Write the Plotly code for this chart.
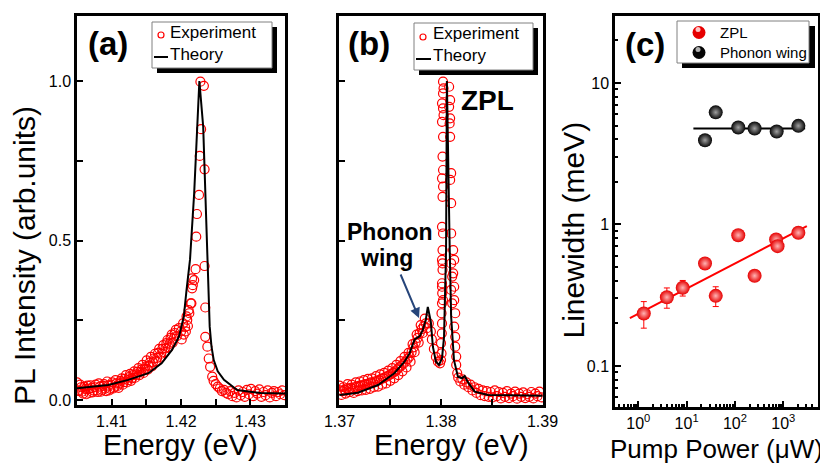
import plotly.graph_objects as go

# ---------------- data: panel (a) ----------------
a_theory_e = [1.4050, 1.4095, 1.4124, 1.4153, 1.4172, 1.4187, 1.4197, 1.4204, 1.4208, 1.4213,
              1.4219, 1.4223, 1.42265, 1.4232, 1.4235, 1.4238, 1.42414, 1.4244, 1.42472, 1.4253,
              1.4262, 1.4281, 1.4315, 1.4350]
a_theory_i = [0.037, 0.047, 0.063, 0.084, 0.115, 0.157, 0.198, 0.261, 0.345, 0.440,
              0.648, 0.857, 1.000, 0.857, 0.648, 0.439, 0.230, 0.167, 0.125, 0.090,
              0.063, 0.031, 0.022, 0.020]

a_exp_e = [1.4050, 1.4053, 1.4056, 1.4059, 1.4062, 1.4065, 1.4068, 1.4071, 1.4074, 1.4077,
           1.4080, 1.4083, 1.4086, 1.4089, 1.4092, 1.4095, 1.4098, 1.4101, 1.4104, 1.4107,
           1.4110, 1.4113, 1.4116, 1.4119, 1.4122, 1.4125, 1.4128, 1.4131, 1.4134, 1.4137,
           1.4140, 1.4143, 1.4146, 1.4149, 1.4152, 1.4155, 1.4158, 1.4161, 1.4164, 1.4167,
           1.4170, 1.4173, 1.4176, 1.4179, 1.4182, 1.4185, 1.4188, 1.4191, 1.4194, 1.4197,
           1.4200, 1.4201, 1.4204, 1.4207, 1.4210,
           1.40515, 1.40545, 1.40575, 1.40605, 1.40635, 1.40665, 1.40695, 1.40725, 1.40755, 1.40785,
           1.40815, 1.40845, 1.40875, 1.40905, 1.40935, 1.40965, 1.40995, 1.41025, 1.41055, 1.41085,
           1.41115, 1.41145, 1.41175, 1.41205, 1.41235, 1.41265, 1.41295, 1.41325, 1.41355, 1.41385,
           1.41415, 1.41445, 1.41475, 1.41505, 1.41535, 1.41565, 1.41595, 1.41625, 1.41655, 1.41685,
           1.41715, 1.41745, 1.41775, 1.41805, 1.41835, 1.41865, 1.41895, 1.41925,
           1.4203, 1.4206, 1.4208, 1.4209, 1.4211, 1.4212, 1.4214, 1.4215, 1.4216, 1.4216,
           1.4217, 1.4219, 1.4221, 1.4222, 1.4223, 1.4226, 1.4227, 1.4229, 1.4228, 1.4233,
           1.4234, 1.4234, 1.4235, 1.4235, 1.4238, 1.4240, 1.4242, 1.4245, 1.4247, 1.4250,
           1.4253, 1.4256, 1.4259, 1.4262, 1.4265, 1.4268,
           1.4271, 1.4274, 1.4277, 1.4280, 1.4283, 1.4286, 1.4289, 1.4292, 1.4295, 1.4298,
           1.4301, 1.4304, 1.4307, 1.4310, 1.4313, 1.4316, 1.4319, 1.4322, 1.4325, 1.4328,
           1.4331, 1.4334, 1.4337, 1.4340, 1.4343, 1.4346, 1.4349]
a_exp_i = [0.055, 0.028, 0.040, 0.020, 0.035, 0.045, 0.022, 0.038, 0.030, 0.048,
           0.025, 0.042, 0.032, 0.050, 0.028, 0.045, 0.035, 0.055, 0.040, 0.052,
           0.038, 0.060, 0.048, 0.066, 0.055, 0.072, 0.060, 0.078, 0.070, 0.088,
           0.078, 0.095, 0.085, 0.105, 0.095, 0.118, 0.105, 0.130, 0.122, 0.148,
           0.135, 0.160, 0.150, 0.178, 0.165, 0.195, 0.180, 0.210, 0.200, 0.225,
           0.215, 0.190, 0.205, 0.215, 0.232,
           0.030, 0.048, 0.026, 0.042, 0.018, 0.034, 0.046, 0.024, 0.040, 0.030,
           0.052, 0.026, 0.044, 0.036, 0.058, 0.030, 0.048, 0.036, 0.062, 0.044,
           0.052, 0.068, 0.056, 0.078, 0.062, 0.082, 0.068, 0.090, 0.080, 0.100,
           0.088, 0.110, 0.098, 0.124, 0.108, 0.135, 0.118, 0.145, 0.132, 0.160,
           0.145, 0.172, 0.162, 0.188, 0.176, 0.205, 0.192, 0.220,
           0.240, 0.228, 0.262, 0.251, 0.282, 0.272, 0.303, 0.303, 0.350, 0.381,
           0.360, 0.376, 0.410, 0.512, 0.583, 0.643, 0.765, 0.849, 0.998, 0.985,
           0.723, 0.420, 0.290, 0.198, 0.167, 0.130, 0.104, 0.073, 0.060, 0.050,
           0.042, 0.036, 0.028, 0.032, 0.022, 0.018,
           0.028, 0.012, 0.022, 0.008, 0.030, 0.015, 0.025, 0.010, 0.032, 0.018,
           0.035, 0.012, 0.028, 0.020, 0.033, 0.010, 0.025, 0.015, 0.030, 0.008,
           0.022, 0.028, 0.012, 0.025, 0.018, 0.030, 0.015]

# ---------------- data: panel (b) ----------------
b_theory_e = [1.3700, 1.3718, 1.3738, 1.3754, 1.3764, 1.3769, 1.3774, 1.3779, 1.3782, 1.3785,
              1.3787, 1.3790, 1.3792, 1.3795, 1.3798, 1.3801, 1.3803, 1.3804, 1.3805, 1.38058,
              1.38072, 1.38086, 1.3810, 1.38128, 1.38167, 1.38207, 1.38233, 1.38273, 1.38332, 1.38463,
              1.3900]
b_theory_i = [0.016, 0.023, 0.047, 0.084, 0.120, 0.146, 0.190, 0.200, 0.219, 0.251,
              0.292, 0.245, 0.167, 0.120, 0.110, 0.131, 0.198, 0.313, 0.470, 1.000,
              0.700, 0.470, 0.261, 0.125, 0.073, 0.068, 0.075, 0.052, 0.026, 0.016,
              0.013]

b_exp_e = [1.3700, 1.3702, 1.3704, 1.3706, 1.3708, 1.3710, 1.3712, 1.3714, 1.3716, 1.3718,
           1.3720, 1.3722, 1.3724, 1.3726, 1.3728, 1.3730, 1.3732, 1.3734, 1.3736, 1.3738,
           1.3740, 1.3742, 1.3744, 1.3746, 1.3748, 1.3750, 1.3752, 1.3754, 1.3756, 1.3758,
           1.3760, 1.3762, 1.3764, 1.3766, 1.3768, 1.3770, 1.3772, 1.3774, 1.3776, 1.3778,
           1.3780, 1.3782, 1.3784, 1.3786,
           1.3701, 1.3703, 1.3705, 1.3707, 1.3709, 1.3711, 1.3713, 1.3715, 1.3717, 1.3719,
           1.3721, 1.3723, 1.3725, 1.3727, 1.3729, 1.3731, 1.3733, 1.3735, 1.3737, 1.3739,
           1.3741, 1.3743, 1.3745, 1.3747, 1.3749, 1.3751, 1.3753, 1.3755, 1.3757, 1.3759,
           1.3761, 1.3763, 1.3765, 1.3767, 1.3769, 1.3771, 1.3773, 1.3775, 1.3777, 1.3779,
           1.3781, 1.3783, 1.3785,
           1.3788, 1.3790, 1.3791, 1.3793, 1.3795, 1.3797, 1.3799,
           1.3800, 1.38005, 1.3800, 1.38008, 1.3801, 1.38005, 1.3801, 1.38012, 1.3801, 1.38015,
           1.3801, 1.38015,
           1.3802, 1.3801, 1.38015, 1.3802, 1.3801, 1.38015, 1.3802, 1.3801, 1.3802, 1.38015,
           1.3802, 1.3801, 1.38025, 1.3802, 1.3801, 1.3802, 1.38025, 1.3802,
           1.3808, 1.3809, 1.3808, 1.3809, 1.38085, 1.3809, 1.3810, 1.3809, 1.3810, 1.3810,
           1.3810, 1.3811, 1.3810, 1.3811,
           1.3812, 1.3813, 1.3812, 1.3813, 1.3813, 1.3814, 1.3813, 1.3814, 1.3814, 1.3815,
           1.3815, 1.3816,
           1.3817, 1.3819, 1.3821, 1.3823, 1.3825, 1.3827, 1.3829, 1.3831, 1.3833, 1.3835,
           1.3837, 1.3839, 1.3841, 1.3843, 1.3845, 1.3847, 1.3849, 1.3851, 1.3853, 1.3855,
           1.3857, 1.3859, 1.3861, 1.3863, 1.3865, 1.3867, 1.3869, 1.3871, 1.3873, 1.3875,
           1.3877, 1.3879, 1.3881, 1.3883, 1.3885, 1.3887, 1.3889, 1.3891, 1.3893, 1.3895,
           1.3897, 1.3899]
b_exp_i = [0.045, 0.016, 0.040, 0.020, 0.050, 0.025, 0.048, 0.022, 0.055, 0.028,
           0.058, 0.030, 0.062, 0.032, 0.066, 0.035, 0.068, 0.040, 0.075, 0.042,
           0.080, 0.048, 0.085, 0.052, 0.092, 0.060, 0.100, 0.068, 0.110, 0.078,
           0.122, 0.090, 0.135, 0.102, 0.148, 0.120, 0.175, 0.150, 0.205, 0.180,
           0.235, 0.210, 0.255, 0.225,
           0.030, 0.028, 0.032, 0.036, 0.034, 0.038, 0.035, 0.040, 0.042, 0.044,
           0.046, 0.045, 0.050, 0.048, 0.052, 0.055, 0.054, 0.058, 0.060, 0.062,
           0.066, 0.068, 0.072, 0.074, 0.078, 0.082, 0.086, 0.090, 0.096, 0.102,
           0.108, 0.114, 0.120, 0.128, 0.136, 0.150, 0.165, 0.180, 0.195, 0.210,
           0.222, 0.232, 0.240,
           0.240, 0.215, 0.190, 0.160, 0.135, 0.120, 0.115,
           0.125, 0.146, 0.178, 0.209, 0.240, 0.272, 0.303, 0.335, 0.366, 0.408,
           0.439, 0.470,
           0.313, 0.355, 0.428, 0.522, 0.543, 0.637, 0.669, 0.695, 0.721, 0.763,
           0.825, 0.872, 0.893, 0.914, 0.930, 0.961, 0.977, 0.998,
           0.982, 0.940, 0.919, 0.883, 0.867, 0.825, 0.711, 0.690, 0.617, 0.522,
           0.428, 0.387, 0.345, 0.303,
           0.470, 0.439, 0.397, 0.355, 0.313, 0.272, 0.230, 0.198, 0.167, 0.136,
           0.110, 0.084,
           0.070, 0.058, 0.065, 0.048, 0.055, 0.040, 0.048, 0.030, 0.040, 0.022,
           0.035, 0.015, 0.030, 0.012, 0.028, 0.010, 0.025, 0.008, 0.030, 0.012,
           0.025, 0.005, 0.022, 0.010, 0.028, 0.006, 0.020, 0.012, 0.026, 0.004,
           0.020, 0.010, 0.024, 0.006, 0.018, 0.010, 0.025, 0.005, 0.020, 0.012,
           0.026, 0.008]

# ---------------- data: panel (c) ----------------
c_zpl_power = [1.3, 3.9, 8.3, 24, 40, 117, 255, 710, 760, 2050]
c_zpl_width = [0.235, 0.306, 0.357, 0.53, 0.313, 0.84, 0.434, 0.783, 0.703, 0.874]
c_zpl_err = [0.05, 0.05, 0.045, 0.03, 0.05, 0.03, 0.03, 0.03, 0.03, 0.03]
c_zpl_fit_power = [0.67, 3070]
c_zpl_fit_width = [0.218, 0.973]
c_pw_power = [24, 40, 117, 255, 730, 2050]
c_pw_width = [3.94, 6.2, 4.85, 4.77, 4.54, 4.98]
c_pw_fit_power = [13.8, 2830]
c_pw_fit_width = [4.77, 4.77]

a_xticks = [1.41, 1.42, 1.43]
b_xticks = [1.37, 1.38, 1.39]
ab_yticks = [0.0, 0.5, 1.0]
c_xticks = [1, 10, 100, 1000]
c_xticktext = ['10<sup>0</sup>', '10<sup>1</sup>', '10<sup>2</sup>', '10<sup>3</sup>']
c_yticks = [0.1, 1, 10]
c_yticktext = ['0.1', '1', '10']

# ---------------- figure ----------------
# the page body adds an 8 px margin, so the figure is drawn 8 px smaller and
# every target position (measured in window pixels) is shifted by that offset
OX, OY = 8, 8
W, H = 820, 459
RED = '#ff0000'
FONT = 'Liberation Sans, Arial, sans-serif'


def fx(x):
    return (x - OX) / W


def fy(y):
    return 1 - (y - OY) / H


fig = go.Figure()

fig.add_trace(go.Scatter(x=a_exp_e, y=a_exp_i, mode='markers', name='Experiment',
                         marker=dict(symbol='circle-open', size=9, color=RED, line=dict(width=1.2)),
                         xaxis='x', yaxis='y', showlegend=False))
fig.add_trace(go.Scatter(x=a_theory_e, y=a_theory_i, mode='lines', name='Theory',
                         line=dict(color='black', width=2), xaxis='x', yaxis='y', showlegend=False))

fig.add_trace(go.Scatter(x=b_exp_e, y=b_exp_i, mode='markers', name='Experiment',
                         marker=dict(symbol='circle-open', size=9, color=RED, line=dict(width=1.2)),
                         xaxis='x2', yaxis='y2', showlegend=False))
fig.add_trace(go.Scatter(x=b_theory_e, y=b_theory_i, mode='lines', name='Theory',
                         line=dict(color='black', width=2), xaxis='x2', yaxis='y2', showlegend=False))

fig.add_trace(go.Scatter(x=c_zpl_fit_power, y=c_zpl_fit_width, mode='lines',
                         line=dict(color=RED, width=2), xaxis='x3', yaxis='y3', showlegend=False))
fig.add_trace(go.Scatter(x=c_pw_fit_power, y=c_pw_fit_width, mode='lines',
                         line=dict(color='black', width=2), xaxis='x3', yaxis='y3', showlegend=False))
fig.add_trace(go.Scatter(x=c_zpl_power, y=c_zpl_width, mode='markers', name='ZPL',
                         error_y=dict(type='data', array=c_zpl_err, color=RED, thickness=1, width=3),
                         marker=dict(size=14, color='#e60000', gradient=dict(type='radial', color='#ffb4b4'),
                                     line=dict(width=0)),
                         xaxis='x3', yaxis='y3', showlegend=False))
fig.add_trace(go.Scatter(x=c_pw_power, y=c_pw_width, mode='markers', name='Phonon wing',
                         marker=dict(size=14, color='#050505', gradient=dict(type='radial', color='#a0a0a0'),
                                     line=dict(width=0)),
                         xaxis='x3', yaxis='y3', showlegend=False))

axis_common = dict(showline=True, linecolor='black', linewidth=2.5, mirror=True, automargin=False,
                   ticks='inside', tickwidth=2, ticklen=6, tickcolor='black',
                   showgrid=False, zeroline=False, tickfont=dict(size=16, color='black'))
minor_common = dict(ticks='inside', ticklen=6, tickwidth=2, tickcolor='black', showgrid=False)
minor_log = dict(ticks='inside', ticklen=3.5, tickwidth=1.5, tickcolor='black', showgrid=False)

fig.update_layout(
    width=W, height=H, margin=dict(l=0, r=0, t=0, b=0, autoexpand=False),
    paper_bgcolor='white', plot_bgcolor='white',
    font=dict(family=FONT, color='black'),
    showlegend=False,
    xaxis=dict(axis_common, domain=[fx(77), fx(285)], range=[1.405, 1.435], anchor='y',
               tickmode='array', tickvals=a_xticks, ticktext=[f'{v:.2f}' for v in a_xticks],
               minor=dict(minor_common, tickvals=[1.415, 1.425])),
    yaxis=dict(axis_common, domain=[fy(405), fy(16)], range=[-0.0157, 1.2038], anchor='x',
               tickmode='array', tickvals=ab_yticks, ticktext=[f'{v:.1f}' for v in ab_yticks],
               minor=dict(minor_common, tickvals=[0.25, 0.75])),
    xaxis2=dict(axis_common, domain=[fx(339), fx(543)], range=[1.36995, 1.39005], anchor='y2',
                tickmode='array', tickvals=b_xticks, ticktext=[f'{v:.2f}' for v in b_xticks],
                minor=dict(minor_common, tickvals=[1.375, 1.385])),
    yaxis2=dict(axis_common, domain=[fy(405), fy(16)], range=[-0.0157, 1.2038], anchor='x2',
                tickmode='array', tickvals=[0.25, 0.5, 0.75, 1.0], showticklabels=False),
    xaxis3=dict(axis_common, type='log', domain=[fx(615), fx(818)], range=[-0.482, 3.718], anchor='y3',
                tickmode='array', tickvals=c_xticks, ticktext=c_xticktext,
                minor=dict(minor_log, tickvals=[0.4, 0.5, 0.6, 0.7, 0.8, 0.9,
                                                 2, 3, 4, 5, 6, 7, 8, 9,
                                                 20, 30, 40, 50, 60, 70, 80, 90,
                                                 200, 300, 400, 500, 600, 700, 800, 900,
                                                 2000, 3000, 4000, 5000])),
    yaxis3=dict(axis_common, type='log', domain=[fy(407), fy(16)], range=[-1.29, 1.4735], anchor='x3',
                tickmode='array', tickvals=c_yticks, ticktext=c_yticktext,
                minor=dict(minor_log, tickvals=[0.06, 0.07, 0.08, 0.09,
                                                 0.2, 0.3, 0.4, 0.5, 0.6, 0.7, 0.8, 0.9,
                                                 2, 3, 4, 5, 6, 7, 8, 9, 20])),
)


def rect(x0, y0, x1, y1, fill, line_color=None, lw=0):
    return dict(type='rect', xref='paper', yref='paper', x0=fx(x0), x1=fx(x1), y0=fy(y1), y1=fy(y0),
                fillcolor=fill, line=dict(color=line_color or fill, width=lw), layer='above')


def circ(cx, cy, r, fill, line_color=None, lw=0):
    return dict(type='circle', xref='paper', yref='paper', x0=fx(cx - r), x1=fx(cx + r),
                y0=fy(cy + r), y1=fy(cy - r), fillcolor=fill,
                line=dict(color=line_color or fill, width=lw), layer='above')


def seg(x0, y0, x1, y1, color, lw):
    return dict(type='line', xref='paper', yref='paper', x0=fx(x0), x1=fx(x1), y0=fy(y0), y1=fy(y1),
                line=dict(color=color, width=lw), layer='above')


shapes = []
# legend (a)
shapes += [rect(157, 27, 277, 73, 'black'), rect(152, 22, 272, 68, 'white', '#808080', 1),
           circ(161, 35, 3, 'rgba(0,0,0,0)', RED, 1.2), seg(154, 57, 168, 57, 'black', 2)]
# legend (b)
shapes += [rect(419, 28, 538, 75, 'black'), rect(414, 23, 533, 70, 'white', '#808080', 1),
           circ(423, 37, 3, 'rgba(0,0,0,0)', RED, 1.2), seg(416, 59, 431, 59, 'black', 2)]
# legend (c)
shapes += [rect(682, 26, 815, 68, 'black'), rect(677, 21, 809, 63, 'white', '#808080', 1),
           circ(699, 32.5, 6.5, '#e60000'), circ(698, 29.5, 2.5, '#ffc4c4'),
           circ(699, 52.5, 6.5, '#050505'), circ(698, 49.5, 2.5, '#b0b0b0')]
fig.update_layout(shapes=shapes)


def txt(s, x, y, size, bold=False, xanchor='center', angle=0, color='black'):
    return dict(text=f'<b>{s}</b>' if bold else s, x=fx(x), y=fy(y), xref='paper', yref='paper',
                showarrow=False, font=dict(size=size, color=color, family=FONT),
                xanchor=xanchor, yanchor='middle', textangle=angle)


ann = [
    txt('(a)', 108, 43.5, 33, bold=True),
    txt('(b)', 369, 43.5, 33, bold=True),
    txt('(c)', 645, 44.5, 33, bold=True),
    txt('Experiment', 168, 33, 17, xanchor='left'),
    txt('Theory', 168, 54, 17, xanchor='left'),
    txt('Experiment', 431, 34, 17, xanchor='left'),
    txt('Theory', 431, 56, 17, xanchor='left'),
    txt('ZPL', 718, 32, 15, xanchor='left'),
    txt('Phonon wing', 718, 53, 15, xanchor='left'),
    txt('ZPL', 487.5, 100, 28, bold=True),
    txt('Phonon', 389.5, 231.5, 23, bold=True),
    txt('wing', 386, 258.5, 23, bold=True),
    txt('PL Intensity (arb.units)', 24, 256, 30, angle=-90),
    txt('Linewidth (meV)', 573, 230.5, 30, angle=-90),
    txt('Energy (eV)', 180, 445, 29),
    txt('Energy (eV)', 451.5, 445, 29),
    txt('Pump Power (μW)', 716, 449, 26),
    dict(x=1.37783, y=0.257, xref='x2', yref='y2', ax=-19, ay=-45, text='', showarrow=True,
         arrowhead=2, arrowsize=1, arrowwidth=2, arrowcolor='#26457a'),
]
fig.update_layout(annotations=ann)

fig.write_html('out.html')
